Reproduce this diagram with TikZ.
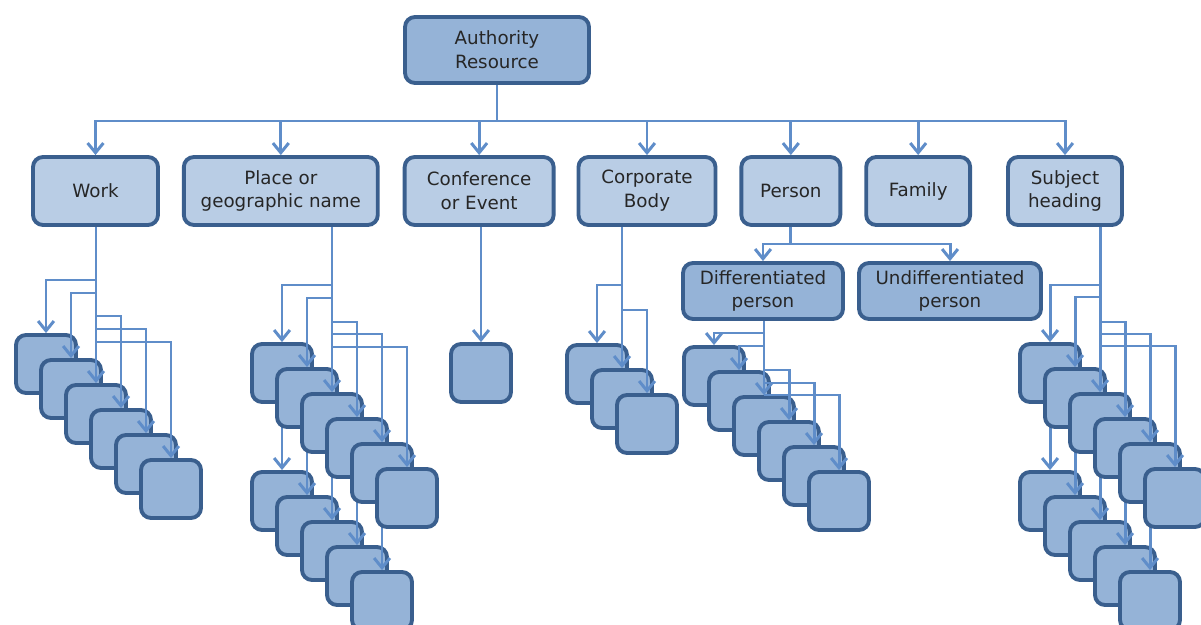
\documentclass[tikz,border=0pt]{standalone}
\usepackage{fontspec}
\setmainfont{DejaVu Sans}
\usetikzlibrary{positioning,arrows.meta}

\definecolor{boxline}{HTML}{3A5F8E}
\definecolor{boxdark}{HTML}{95B3D7}
\definecolor{boxlight}{HTML}{B9CDE5}
\definecolor{linkline}{HTML}{5F8DC9}

\pgfdeclarelayer{lower}
\pgfsetlayers{lower,main}

\begin{document}
\begin{tikzpicture}[
        x=0.02cm, y=-0.02cm,
        category/.style={
                rectangle,
                rounded corners=2mm,
                draw=boxline,
                fill=boxlight,
                line width=2.2pt,
                align=center,
                text=black!85,
                font=\fontsize{10.4}{13.6}\selectfont,
                minimum height=13.6mm
            },
        subcategory/.style={
                category,
                fill=boxdark,
                minimum height=11.2mm
            },
        record/.style={
                rectangle,
                rounded corners=2mm,
                draw=boxline,
                fill=boxdark,
                line width=2.2pt,
                minimum width=12mm,
                minimum height=11.6mm
            },
        link/.style={
                draw=linkline,
                line width=1.7pt,
                -{Straight Barb[length=5.5pt,width=9pt]}
            }
    ]
    \useasboundingbox (0,0) rectangle (1201,625);

    \node[subcategory, minimum width=36.8mm, minimum height=13.2mm] (Authority) at (497,50) {Authority\\Resource};

    \node[category, minimum width=25mm] (Work) at (95.5,191) {Work};
    \node[category, minimum width=38.8mm] (Place) [right=0.44cm of Work] {Place or\\geographic name};
    \node[category, minimum width=29.8mm] (Conf) [right=0.46cm of Place] {Conference\\or Event};
    \node[category, minimum width=27.4mm] (Corp) [right=0.42cm of Conf] {Corporate\\Body};
    \node[category, minimum width=19.8mm] (Person) [right=0.44cm of Corp] {Person};
    \node[category, minimum width=20.8mm] (Family) [right=0.44cm of Person] {Family};
    \node[category, minimum width=22.8mm] (Subj) [right=0.68cm of Family] {Subject\\heading};

    \node[subcategory, minimum width=32mm] (Diff) at (763,291) {Differentiated\\person};
    \node[subcategory, minimum width=36.4mm] (Undiff) at (950,291) {Undifferentiated\\person};

    % bus from the top
    \foreach \n in {Work,Place,Conf,Corp,Person,Family,Subj}
        \draw[link] (Authority.south) -- (Authority.south |- 0,121) -| (\n.north);
    \draw[link] (Person.south) -- (Person.south |- 0,244) -| (Diff.north);
    \draw[link] (Person.south) -- (Person.south |- 0,244) -| (Undiff.north);

    % Work
    \foreach \i in {1,...,6}
        \node[record] (work\i) at ({46+25*(\i-1)},{364+25*(\i-1)}) {};
    \draw[link] (work3.north |- Work.south) -- (work3.north);
    \foreach \i/\yb in {1/280,2/293,4/316,5/329,6/342}
        \draw[link] (work3.north |- 0,\yb) -| (work\i.north);

    % Place or geographic name
    \foreach \i in {1,...,6}
        \node[record] (place\i) at ({282+25*(\i-1)},{373+25*(\i-1)}) {};
    \draw[link] (place3.north |- Place.south) -- (place3.north);
    \foreach \i/\yb in {1/285,2/298,4/322,5/334,6/347}
        \draw[link] (place3.north |- 0,\yb) -| (place\i.north);
    \begin{pgfonlayer}{lower}
        \foreach \i in {1,...,5}
            \node[record] (placeB\i) at ({282+25*(\i-1)},{501+25*(\i-1)}) {};
        \foreach \i in {1,...,5}
            \draw[link] (place\i.center) -- (placeB\i.north);
    \end{pgfonlayer}

    % Conference or Event
    \node[record] (conf1) at (481,373) {};
    \draw[link] (conf1.north |- Conf.south) -- (conf1.north);

    % Corporate Body
    \foreach \i in {1,2,3}
        \node[record] (corp\i) at ({597+25*(\i-1)},{374+25*(\i-1)}) {};
    \draw[link] (corp2.north |- Corp.south) -- (corp2.north);
    \foreach \i/\yb in {1/285,3/310}
        \draw[link] (corp2.north |- 0,\yb) -| (corp\i.north);

    % Differentiated person
    \foreach \i in {1,...,6}
        \node[record] (diff\i) at ({714+25*(\i-1)},{376+25*(\i-1)}) {};
    \draw[link] (diff3.north |- Diff.south) -- (diff3.north);
    \foreach \i/\yb in {1/333,2/346,4/370,5/383,6/395}
        \draw[link] (diff3.north |- 0,\yb) -| (diff\i.north);

    % Subject heading
    \foreach \i in {1,...,6}
        \node[record] (subj\i) at ({1050+25*(\i-1)},{373+25*(\i-1)}) {};
    \draw[link] (subj3.north |- Subj.south) -- (subj3.north);
    \foreach \i/\yb in {1/285,2/297,4/322,5/334,6/346}
        \draw[link] (subj3.north |- 0,\yb) -| (subj\i.north);
    \begin{pgfonlayer}{lower}
        \foreach \i in {1,...,5}
            \node[record] (subjB\i) at ({1050+25*(\i-1)},{501+25*(\i-1)}) {};
        \foreach \i in {1,...,5}
            \draw[link] (subj\i.center) -- (subjB\i.north);
    \end{pgfonlayer}
\end{tikzpicture}
\end{document}
